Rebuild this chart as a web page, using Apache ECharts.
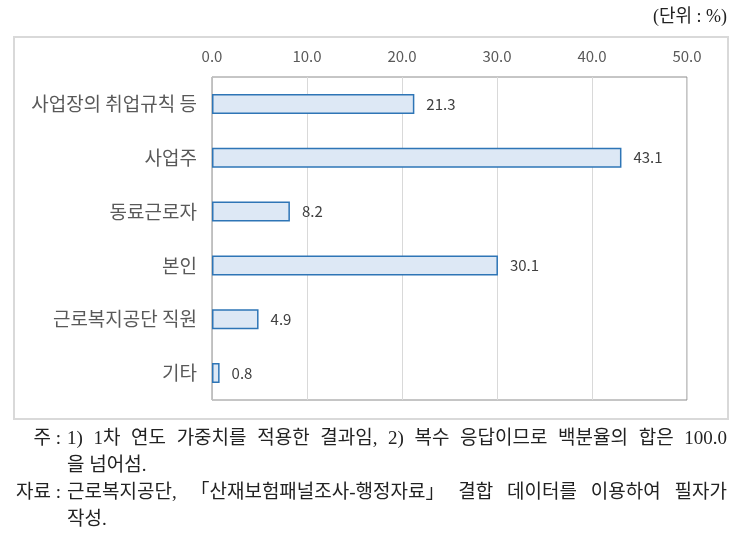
<!DOCTYPE html>
<html>
<head>
<meta charset="utf-8">
<script src="https://cdn.jsdelivr.net/npm/echarts@6/dist/echarts.min.js"></script>
<style>
html,body{margin:0;padding:0;background:#fff;}
#c{width:741px;height:546px;}
</style>
</head>
<body>
<div id="c"></div>
<script>
const categories = ['사업장의 취업규칙 등', '사업주', '동료근로자', '본인', '근로복지공단 직원', '기타'];
const values = [21.3, 43.1, 8.2, 30.1, 4.9, 0.8];
const axisMin = 0, axisMax = 50, axisStep = 10;
const unitText = '(단위 : %)';
const noteLines = [
  {head: '주 :', body: '1) 1차 연도 가중치를 적용한 결과임, 2) 복수 응답이므로 백분율의 합은 100.0', justify: true},
  {head: '', body: '을 넘어섬.', justify: false},
  {head: '자료 :', body: '근로복지공단, 「산재보험패널조사-행정자료」 결합 데이터를 이용하여 필자가', justify: true},
  {head: '', body: '작성.', justify: false}
];

const sansKR = "'Noto Sans CJK KR', 'Noto Sans', sans-serif";
const serifKR = "'Liberation Serif', 'Noto Sans CJK KR', serif";
const bodyLeft = 67, bodyRight = 727, lineY0 = 439, lineStep = 27;

const mctx = document.createElement('canvas').getContext('2d');
// pick the note font size: 19px unless a justified line would not fit
let noteSize = 19;
function lineWidth(body, size) {
  mctx.font = size + 'px ' + serifKR;
  return body.split(' ').reduce((a, w) => a + mctx.measureText(w).width, 0) + (body.split(' ').length - 1) * 4;
}
while (noteSize > 15 && noteLines.some(l => l.justify && lineWidth(l.body, noteSize) > bodyRight - bodyLeft)) noteSize -= 0.5;
const noteFont = noteSize + 'px ' + serifKR;
mctx.font = noteFont;

const chart = echarts.init(document.getElementById('c'));

const graphics = [
  {type: 'rect', shape: {x: 14, y: 37, width: 714, height: 382}, style: {fill: '#fff', stroke: '#d9d9d9', lineWidth: 2}, z: -10},
  {type: 'text', style: {text: unitText, x: 727, y: 17, font: "18px " + serifKR, fill: '#222', textAlign: 'right', textVerticalAlign: 'middle'}}
];

noteLines.forEach((ln, i) => {
  const y = lineY0 + i * lineStep;
  if (ln.head) {
    graphics.push({type: 'text', style: {text: ln.head, x: 61, y: y, font: noteFont, fill: '#222', textAlign: 'right', textVerticalAlign: 'middle'}});
  }
  if (ln.justify) {
    const words = ln.body.split(' ');
    const widths = words.map(w => mctx.measureText(w).width);
    const total = widths.reduce((a, b) => a + b, 0);
    const gap = (bodyRight - bodyLeft - total) / (words.length - 1);
    let x = bodyLeft;
    words.forEach((w, k) => {
      graphics.push({type: 'text', style: {text: w, x: x, y: y, font: noteFont, fill: '#222', textAlign: 'left', textVerticalAlign: 'middle'}});
      x += widths[k] + gap;
    });
  } else {
    graphics.push({type: 'text', style: {text: ln.body, x: bodyLeft, y: y, font: noteFont, fill: '#222', textAlign: 'left', textVerticalAlign: 'middle'}});
  }
});

chart.setOption({
  animation: false,
  backgroundColor: '#fff',
  graphic: graphics,
  grid: {left: 212, top: 77, right: 54, bottom: 146, show: true, borderColor: '#8c8c8c', borderWidth: 1, backgroundColor: 'transparent', containLabel: false},
  xAxis: {
    type: 'value', position: 'top', min: axisMin, max: axisMax, interval: axisStep,
    axisLine: {show: false}, axisTick: {show: false},
    axisLabel: {formatter: v => v.toFixed(1), color: '#595959', fontSize: 15, fontFamily: sansKR, margin: 13},
    splitLine: {show: true, lineStyle: {color: '#d9d9d9', width: 1}}
  },
  yAxis: {
    type: 'category', inverse: true, data: categories,
    axisLine: {show: true, lineStyle: {color: '#bfbfbf', width: 1}},
    axisTick: {show: false},
    axisLabel: {color: '#595959', fontSize: 19, fontFamily: sansKR, margin: 15}
  },
  series: [{
    type: 'bar', data: values, barWidth: 20,
    itemStyle: {color: '#dde8f5', borderColor: '#2e75b6', borderWidth: 1.5},
    label: {show: true, position: 'right', distance: 12, formatter: p => p.value.toFixed(1), color: '#404040', fontSize: 15, fontFamily: sansKR}
  }]
});
</script>
</body>
</html>
